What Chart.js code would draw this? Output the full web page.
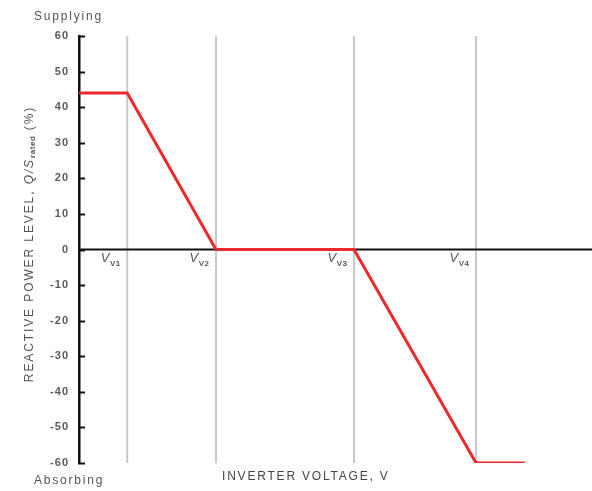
<!DOCTYPE html>
<html>
<head>
<meta charset="utf-8">
<script src="https://cdn.jsdelivr.net/npm/chart.js@4.4.0/dist/chart.umd.min.js"></script>
<style>
    html, body { margin: 0; padding: 0; background: #fff; }
    #wrap { position: relative; width: 592px; height: 491px; }
</style>
</head>
<body>
<div id="wrap"><canvas id="vv-chart"></canvas></div>
<script>
(function() {
    "use strict";

    // volt-var curve, x in arbitrary voltage units, y in % of Srated
    const curveX = [0, 9.4, 26.7, 53.6, 77.4, 86.9];
    const curveY = [44, 44, 0, 0, -60, -60];
    const vPoints = [9.4, 26.7, 53.6, 77.4];
    const vLabels = ['V1', 'V2', 'V3', 'V4'];
    const yTicks = [60, 50, 40, 30, 20, 10, 0, -10, -20, -30, -40, -50, -60];

    const font = '"Liberation Sans", Arial, sans-serif';
    const red = '#ec2a2d';
    const grey = '#c9c9c9';

    let datasets = [{
        label: 'zero',
        data: [{x: 0, y: 0}, {x: 100, y: 0}],
        borderColor: '#111',
        borderWidth: 2,
        pointRadius: 0,
        order: 2
    }];
    vPoints.forEach(function(v, i) {
        datasets.push({
            label: vLabels[i],
            data: [{x: v, y: -60}, {x: v, y: 60}],
            borderColor: grey,
            borderWidth: 2,
            pointRadius: 0,
            order: 3
        });
    });
    datasets.push({
        label: 'Q/S',
        data: curveX.map((x, i) => ({x: x, y: curveY[i]})),
        borderColor: red,
        borderWidth: 3,
        pointRadius: 0,
        lineTension: 0,
        order: 1
    });

    const annotate = {
        id: 'annotate',
        beforeDraw(chart) {
            // wider tick digits, like the original
            chart.ctx.letterSpacing = '1px';
        },
        afterDatasetsDraw(chart) {
            const ctx = chart.ctx;
            const xs = chart.scales.x, ys = chart.scales.y;
            const left = chart.chartArea.left;
            ctx.save();

            // inward tick marks on the y axis
            ctx.strokeStyle = '#111';
            ctx.lineWidth = 2;
            yTicks.forEach(function(t) {
                const py = Math.round(ys.getPixelForValue(t)) + 0.5;
                ctx.beginPath();
                ctx.moveTo(left - 1, py);
                ctx.lineTo(left + 6, py);
                ctx.stroke();
            });

            // V labels next to the grey lines
            ctx.fillStyle = '#555';
            ctx.textBaseline = 'alphabetic';
            vPoints.forEach(function(v, i) {
                const px = xs.getPixelForValue(v);
                ctx.letterSpacing = '0.5px';
                ctx.font = 'bold 8px ' + font;
                const sw = ctx.measureText(vLabels[i]).width;
                ctx.textAlign = 'right';
                ctx.fillText(vLabels[i], px - 6.5, 266);
                ctx.letterSpacing = '0px';
                ctx.font = 'italic 13px ' + font;
                ctx.fillText('V', px - 7 - sw, 262);
            });

            // corner texts
            ctx.letterSpacing = '1.8px';
            ctx.font = '12px ' + font;
            ctx.fillStyle = '#555';
            ctx.textAlign = 'left';
            ctx.textBaseline = 'middle';
            ctx.fillText('Supplying', 34, 17);
            ctx.fillText('Absorbing', 34, 481);
            ctx.fillStyle = '#444';
            ctx.fillText('INVERTER VOLTAGE, V', 222, 477);

            // rotated y title with subscript
            const parts = [
                {t: 'REACTIVE POWER LEVEL, ', f: '12px ' + font, dy: 0, ls: '1.9px'},
                {t: 'Q/S', f: 'italic 12px ' + font, dy: 0, ls: '1.9px'},
                {t: 'rated', f: 'bold 8px ' + font, dy: 3, ls: '0.6px'},
                {t: ' (%)', f: '12px ' + font, dy: 0, ls: '1.9px'}
            ];
            let total = 0;
            parts.forEach(function(p) {
                ctx.font = p.f;
                ctx.letterSpacing = p.ls;
                p.w = ctx.measureText(p.t).width;
                total += p.w;
            });
            ctx.translate(30, 244);
            ctx.rotate(-Math.PI / 2);
            ctx.fillStyle = '#555';
            ctx.textAlign = 'left';
            let cx = -total / 2;
            parts.forEach(function(p) {
                ctx.font = p.f;
                ctx.letterSpacing = p.ls;
                ctx.fillText(p.t, cx, p.dy);
                cx += p.w;
            });
            ctx.restore();
        }
    };

    new Chart(document.getElementById('vv-chart'), {
        type: 'line',
        data: {datasets: datasets},
        options: {
            responsive: true,
            maintainAspectRatio: false,
            animation: false,
            layout: {
                padding: {left: 29, top: 36, right: 0, bottom: 28}
            },
            plugins: {
                legend: {display: false},
                tooltip: {enabled: false}
            },
            scales: {
                x: {
                    type: 'linear',
                    display: false,
                    min: 0,
                    max: 100
                },
                y: {
                    min: -60,
                    max: 60,
                    afterFit: function(s) { s.width = 50; },
                    afterBuildTicks: function(s) {
                        s.ticks = yTicks.map(v => ({value: v}));
                    },
                    border: {display: true, color: '#111', width: 2.5},
                    grid: {display: false, drawTicks: false},
                    ticks: {
                        padding: 10,
                        color: '#5a5a5a',
                        font: {family: font, size: 11, weight: 'bold'}
                    }
                }
            }
        },
        plugins: [annotate]
    });
})();
</script>
</body>
</html>
